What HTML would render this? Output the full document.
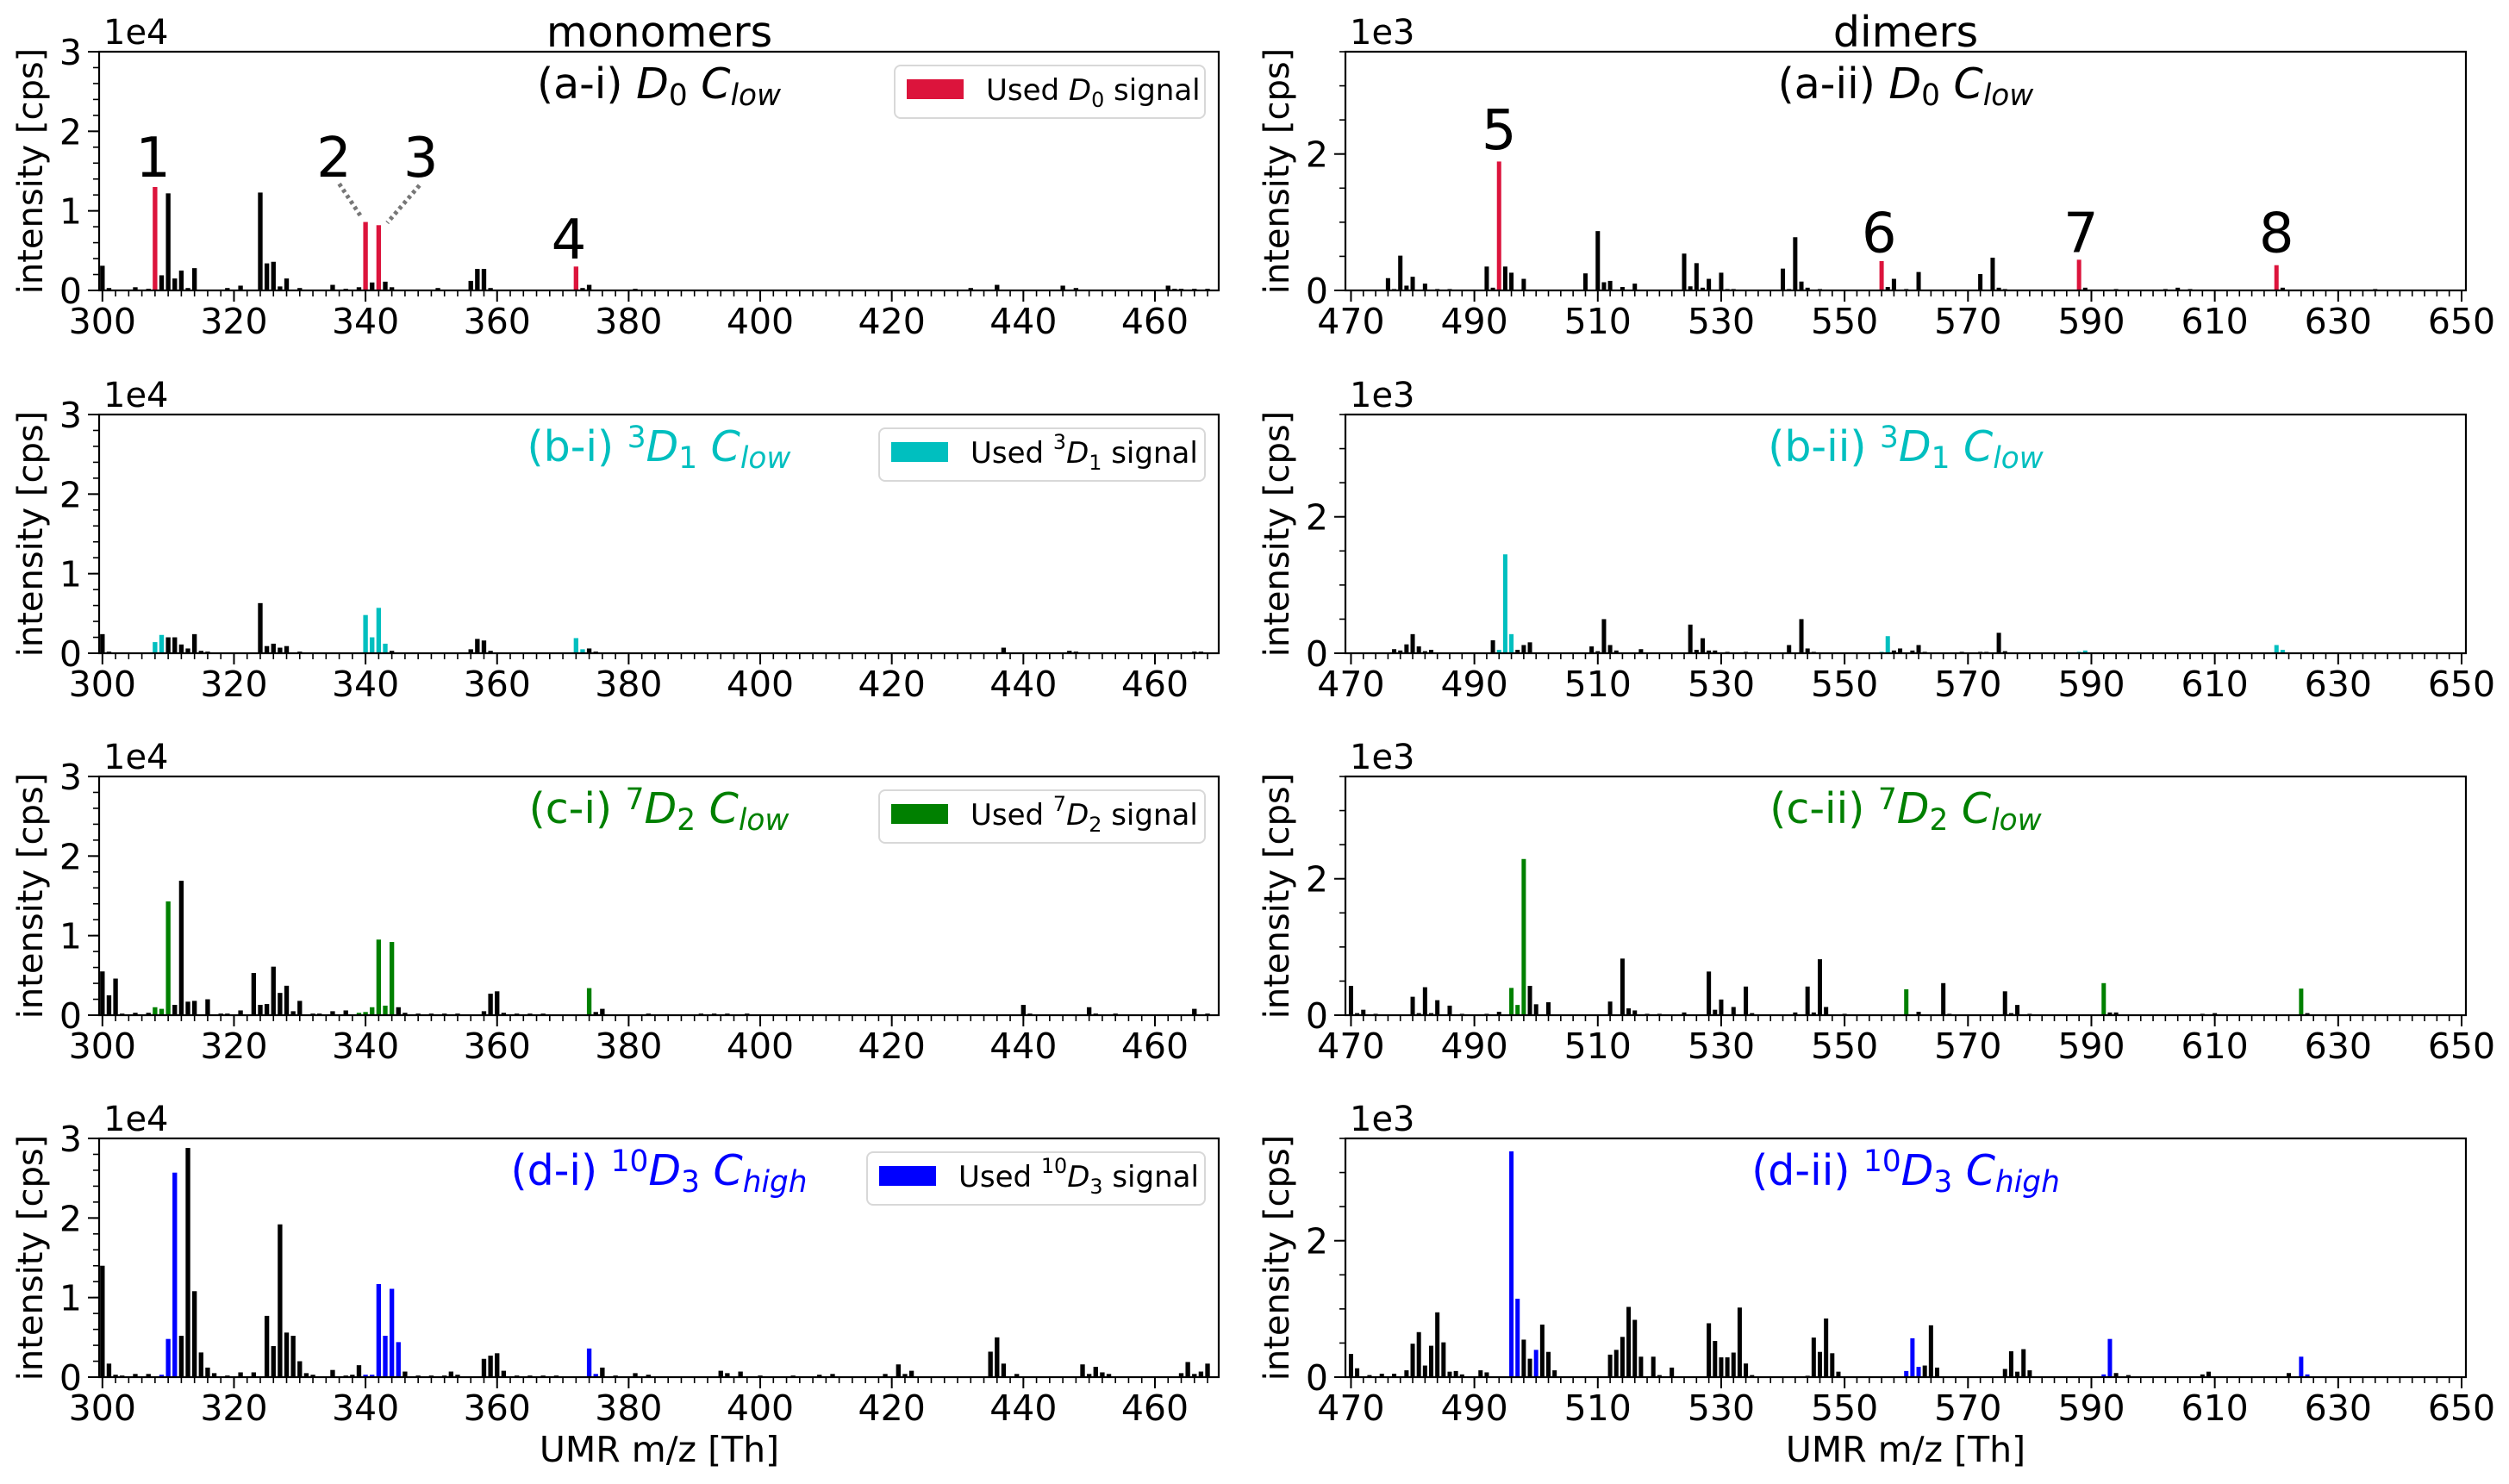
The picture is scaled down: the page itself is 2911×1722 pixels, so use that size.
<!DOCTYPE html>
<html><head><meta charset="utf-8"><style>
html,body{margin:0;padding:0;background:#fff}
svg{display:block;font-family:"DejaVu Sans","Liberation Sans",sans-serif}
</style></head><body>
<svg id="fig" xmlns="http://www.w3.org/2000/svg" width="2911" height="1722" viewBox="0 0 2911 1722"></svg>
<script>
// ---- data (intensity in units of the axis offset: 1e4 monomers, 1e3 dimers) ----
const mzAI=[300,301,303,305,307,308,309,310,311,312,313,314,315,316,319,321,324,325,326,327,328,330,333,335,337,339,340,341,342,343,344,349,351,352,353,356,357,358,359,365,367,372,373,374,381,383,409,416,423,432,436,437,446,448,450,456,462,463,464,466,468];
const valAI=[.31,.03,.01,.04,.02,1.30,.19,1.22,.15,.25,.03,.28,.01,.01,.03,.06,1.23,.34,.36,.05,.15,.03,.01,.07,.02,.04,.86,.10,.82,.11,.04,.01,.03,.01,.01,.12,.27,.27,.03,.01,.01,.30,.03,.07,.02,.01,.01,.01,.01,.03,.07,.01,.06,.03,.01,.01,.06,.02,.02,.02,.02];
const usedAI=[308,340,342,372];

const mzBI=[300,301,308,309,310,311,312,313,314,315,316,324,325,326,327,328,330,340,341,342,343,344,356,357,358,359,372,373,374,375,418,437,440,447,448,450,458,466,467];
const valBI=[.24,.02,.14,.23,.20,.20,.11,.06,.24,.03,.02,.63,.09,.12,.07,.09,.02,.48,.20,.57,.12,.03,.05,.18,.16,.03,.19,.05,.06,.02,.01,.07,.01,.03,.02,.01,.01,.02,.02];
const usedBI=[308,309,340,341,342,343,372,373];

const mzCI=[300,301,302,303,305,307,308,309,310,311,312,313,314,316,318,319,321,323,324,325,326,327,328,329,330,332,333,335,337,339,340,341,342,343,344,345,346,348,350,352,354,358,359,360,361,363,365,367,372,374,375,376,379,383,391,393,395,398,411,420,434,440,441,450,451,454,466,468];
const valCI=[.55,.25,.46,.02,.03,.03,.10,.08,1.43,.13,1.69,.17,.18,.20,.02,.02,.06,.53,.13,.14,.61,.28,.37,.05,.18,.02,.02,.05,.06,.03,.04,.10,.95,.12,.92,.10,.03,.02,.02,.02,.02,.05,.27,.30,.03,.02,.02,.02,.01,.34,.04,.08,.01,.02,.02,.02,.02,.02,.01,.01,.01,.13,.02,.10,.02,.02,.08,.02];
const usedCI=[308,309,310,339,340,341,342,343,344,374];

const mzDI=[300,301,302,303,305,307,309,310,311,312,313,314,315,316,317,319,321,323,325,326,327,328,329,330,331,332,335,337,338,339,340,341,342,343,344,345,346,348,350,352,353,354,358,359,360,361,363,365,367,369,374,375,376,378,381,383,394,395,397,400,405,409,411,419,421,422,423,435,436,437,439,449,450,451,452,453,464,465,466,467,468];
const valDI=[1.40,.17,.03,.02,.04,.04,.03,.48,2.57,.52,2.88,1.08,.31,.12,.05,.02,.06,.06,.77,.39,1.92,.56,.52,.20,.05,.03,.09,.02,.03,.15,.03,.03,1.17,.52,1.11,.44,.07,.02,.02,.02,.07,.03,.23,.27,.30,.08,.02,.02,.02,.02,.36,.04,.12,.02,.05,.03,.08,.05,.07,.02,.02,.03,.04,.04,.16,.04,.08,.32,.50,.17,.04,.16,.04,.13,.06,.04,.05,.19,.04,.07,.17];
const usedDI=[309,310,311,340,341,342,343,344,345,374,375];

const mzAII=[476,477,478,479,480,482,484,486,490,492,493,494,495,496,498,508,509,510,511,512,514,516,524,525,526,527,528,530,531,532,540,541,542,543,544,546,556,557,558,560,562,572,574,575,576,588,589,590,594,602,604,606,620,621,636];
const valAII=[.18,.02,.51,.07,.20,.10,.02,.02,.01,.35,.04,1.89,.35,.26,.17,.25,.01,.87,.12,.14,.05,.10,.54,.06,.40,.04,.17,.26,.02,.02,.32,.02,.78,.13,.04,.02,.43,.05,.17,.02,.27,.24,.48,.04,.02,.45,.04,.01,.02,.02,.04,.02,.37,.04,.02];
const usedAII=[494,556,588,620];

const mzBII=[477,478,479,480,481,482,483,493,494,495,496,497,498,499,509,510,511,512,513,515,517,525,526,527,528,529,531,534,541,543,544,545,556,557,558,559,561,562,563,569,572,573,575,576,588,589,620,621];
const valBII=[.06,.04,.13,.28,.10,.03,.05,.19,.05,1.45,.28,.05,.12,.16,.10,.03,.50,.12,.04,.01,.06,.42,.05,.22,.04,.04,.02,.02,.12,.50,.07,.02,.02,.25,.04,.07,.04,.12,.02,.02,.02,.02,.30,.03,.02,.04,.12,.05];
const usedBII=[494,495,496,556,557,588,589,620,621];

const mzCII=[470,471,472,474,478,480,481,482,483,484,486,488,492,494,496,497,498,499,500,502,512,514,515,516,518,520,524,528,529,530,532,534,535,542,544,545,546,547,550,560,562,566,567,576,577,578,580,592,593,594,608,610,624,625];
const valCII=[.43,.03,.08,.02,.01,.27,.03,.41,.03,.22,.14,.02,.02,.05,.40,.15,2.29,.43,.16,.19,.20,.83,.10,.07,.02,.02,.04,.64,.08,.23,.12,.42,.03,.04,.42,.04,.82,.12,.02,.38,.05,.47,.02,.35,.03,.15,.02,.47,.04,.04,.02,.03,.39,.03];
const usedCII=[496,497,498,560,592,624];

const mzDII=[470,471,473,475,477,479,480,481,482,483,484,485,486,487,488,491,492,496,497,498,499,500,501,502,503,512,513,514,515,516,517,519,520,522,528,529,530,531,532,533,534,535,544,545,546,547,548,549,560,561,562,563,564,565,576,577,578,579,580,592,593,594,596,608,609,622,624,625];
const valDII=[.34,.13,.03,.05,.05,.10,.49,.66,.17,.46,.95,.51,.08,.09,.04,.10,.07,3.31,1.15,.55,.27,.40,.77,.37,.10,.33,.40,.59,1.03,.84,.30,.30,.03,.14,.79,.53,.29,.29,.36,1.02,.20,.03,.02,.58,.37,.86,.35,.08,.09,.57,.15,.17,.76,.14,.12,.38,.08,.41,.10,.04,.56,.06,.03,.04,.08,.06,.30,.04];
const usedDII=[496,497,500,560,561,562,592,593,624,625];

const monoTicks=[300,320,340,360,380,400,420,440,460];
const dimTicks=[470,490,510,530,550,570,590,610,630,650];
const monoYTicks=[0,1,2,3];
const dimYTicks=[0,2];

// ---- drawing ----
const NS='http://www.w3.org/2000/svg';
const svg=document.getElementById('fig');
function mk(tag,attrs,parent){const e=document.createElementNS(NS,tag);for(const k in attrs)e.setAttribute(k,attrs[k]);(parent||svg).appendChild(e);return e;}

const rowTops=[60,481,901,1321], H=277;
const L={x0:115,x1:1414,lo:299.5,hi:469.7,ymax:3,minY:0.2,minX:2};
const R={x0:1561,x1:2861,lo:469.1,hi:650.7,ymax:3.5,minY:0.5,minX:2};

function titleSpans(t,parts){
  parts.forEach(p=>{const s=mk('tspan',{},t);s.textContent=p[0];
    if(p[1]==='i')s.setAttribute('font-style','italic');
    if(p[1]==='sub'){s.setAttribute('font-style','italic');s.setAttribute('font-size','0.7em');s.setAttribute('dy','8');}
    if(p[1]==='subn'){s.setAttribute('font-size','0.7em');s.setAttribute('dy','8');}
    if(p[1]==='sup'){s.setAttribute('font-size','0.7em');s.setAttribute('dy','-16');}
    if(p[1]==='back'){s.setAttribute('dy','-8');}
    if(p[1]==='iback'){s.setAttribute('dy','-8');s.setAttribute('font-style','italic');}
    if(p[1]==='iup'){s.setAttribute('dy','16');s.setAttribute('font-style','italic');}
  });
}

function panel(name,ax,top,mz,val,used,color,ticks,yticks,title,legend,offs){
  const g=mk('g',{});
  
  
  const bot=top+H;
  const sx=v=>ax.x0+(v-ax.lo)/(ax.hi-ax.lo)*(ax.x1-ax.x0);
  const sy=v=>bot-v/ax.ymax*H;
  const bw=0.7*(ax.x1-ax.x0)/(ax.hi-ax.lo);
  mz.forEach((m,i)=>{
    const u=used.indexOf(m)>=0;
    const r=mk('rect',{x:sx(m)-bw/2,y:sy(val[i]),width:bw,height:Math.max(0,bot-sy(val[i])),fill:u?color:'#000'},g);
    
    
  });
  for(let v=Math.ceil(ax.lo/ax.minX)*ax.minX;v<=ax.hi;v+=ax.minX){
    mk('line',{x1:sx(v),x2:sx(v),y1:bot,y2:bot+7,stroke:'#000','stroke-width':1.6},g);
  }
  ticks.forEach(v=>{
    mk('line',{x1:sx(v),x2:sx(v),y1:bot,y2:bot+13,stroke:'#000','stroke-width':2},g);
    const t=mk('text',{x:sx(v),y:bot+50,'font-size':41,'text-anchor':'middle'},g);
    
    
    t.textContent=v;
  });
  for(let v=0;v<=ax.ymax+1e-9;v+=ax.minY){
    mk('line',{x1:ax.x0,x2:ax.x0-7,y1:sy(v),y2:sy(v),stroke:'#000','stroke-width':1.6},g);
  }
  yticks.forEach(v=>{
    mk('line',{x1:ax.x0,x2:ax.x0-13,y1:sy(v),y2:sy(v),stroke:'#000','stroke-width':2},g);
    const t=mk('text',{x:ax.x0-20,y:sy(v)+15,'font-size':41,'text-anchor':'end'},g);
    
    
    t.textContent=v;
  });
  const sp=mk('rect',{x:ax.x0,y:top,width:ax.x1-ax.x0,height:H,fill:'none',stroke:'#000','stroke-width':2.2},g);
  
  
  const o=mk('text',{x:ax.x0+5,y:top-9,'font-size':40},g);
  
  
  o.textContent=offs;
  const yl=mk('text',{x:0,y:0,'font-size':40,'text-anchor':'middle',transform:`translate(${ax.x0-66},${top+H/2}) rotate(-90)`},g);
  
  
  yl.textContent='intensity [cps]';
  const tt=mk('text',{x:(ax.x0+ax.x1)/2,y:top+54,'font-size':49,'text-anchor':'middle',fill:color==='#DC143C'?'#000':color},g);
  
  
  titleSpans(tt,title);
  if(legend){
    const lg=mk('g',{},g);
    
    
    const lx=ax.x1-16-legend.w, ly=top+16;
    mk('rect',{x:lx,y:ly,width:legend.w,height:61,rx:7,fill:'#fff',stroke:'#d8d8d8','stroke-width':2},lg);
    const pt=mk('rect',{x:lx+14,y:ly+16,width:66,height:23,fill:color},lg);
    
    
    const lt=mk('text',{x:lx+106,y:ly+40,'font-size':34},lg);
    
    
    titleSpans(lt,legend.parts);
  }
  return {sx,sy,g};
}

const red='#DC143C',cyan='#00BFBF',green='#008000',blue='#0000FF';
const pAI=panel('panel-a-i',L,rowTops[0],mzAI,valAI,usedAI,red,monoTicks,monoYTicks,
 [['(a-i) '],['D','i'],['0','subn'],[' C','iback'],['low','sub']],
 {w:360,parts:[['Used '],['D','i'],['0','subn'],[' signal','back']]},'1e4');
panel('panel-b-i',L,rowTops[1],mzBI,valBI,usedBI,cyan,monoTicks,monoYTicks,
 [['(b-i) '],['3','sup'],['D','iup'],['1','subn'],[' C','iback'],['low','sub']],
 {w:378,parts:[['Used '],['3','sup'],['D','iup'],['1','subn'],[' signal','back']]},'1e4');
panel('panel-c-i',L,rowTops[2],mzCI,valCI,usedCI,green,monoTicks,monoYTicks,
 [['(c-i) '],['7','sup'],['D','iup'],['2','subn'],[' C','iback'],['low','sub']],
 {w:378,parts:[['Used '],['7','sup'],['D','iup'],['2','subn'],[' signal','back']]},'1e4');
panel('panel-d-i',L,rowTops[3],mzDI,valDI,usedDI,blue,monoTicks,monoYTicks,
 [['(d-i) '],['10','sup'],['D','iup'],['3','subn'],[' C','iback'],['high','sub']],
 {w:392,parts:[['Used '],['10','sup'],['D','iup'],['3','subn'],[' signal','back']]},'1e4');
const pAII=panel('panel-a-ii',R,rowTops[0],mzAII,valAII,usedAII,red,dimTicks,dimYTicks,
 [['(a-ii) '],['D','i'],['0','subn'],[' C','iback'],['low','sub']],null,'1e3');
panel('panel-b-ii',R,rowTops[1],mzBII,valBII,usedBII,cyan,dimTicks,dimYTicks,
 [['(b-ii) '],['3','sup'],['D','iup'],['1','subn'],[' C','iback'],['low','sub']],null,'1e3');
panel('panel-c-ii',R,rowTops[2],mzCII,valCII,usedCII,green,dimTicks,dimYTicks,
 [['(c-ii) '],['7','sup'],['D','iup'],['2','subn'],[' C','iback'],['low','sub']],null,'1e3');
panel('panel-d-ii',R,rowTops[3],mzDII,valDII,usedDII,blue,dimTicks,dimYTicks,
 [['(d-ii) '],['10','sup'],['D','iup'],['3','subn'],[' C','iback'],['high','sub']],null,'1e3');

const annLabels=['1','2','3','4'], annX=[307.7,335.2,348.4,370.9], annY=[1.43,1.43,1.43,0.40];
annLabels.forEach((s,i)=>{const t=mk('text',{x:pAI.sx(annX[i]),y:pAI.sy(annY[i]),'font-size':64,'text-anchor':'middle'});
 
 
 t.textContent=s;});
const annLabels2=['5','6','7','8'], annX2=[494,555.6,588.3,620], annY2=[2.07,0.56,0.56,0.56];
annLabels2.forEach((s,i)=>{const t=mk('text',{x:pAII.sx(annX2[i]),y:pAII.sy(annY2[i]),'font-size':64,'text-anchor':'middle'});
 
 
 t.textContent=s;});
const ln1=mk('line',{x1:pAI.sx(336),y1:pAI.sy(1.34),x2:pAI.sx(339.3),y2:pAI.sy(0.93),stroke:'#777','stroke-width':5,'stroke-dasharray':'4 4'});


const ln2=mk('line',{x1:pAI.sx(348.2),y1:pAI.sy(1.32),x2:pAI.sx(343.3),y2:pAI.sy(0.85),stroke:'#777','stroke-width':5,'stroke-dasharray':'4 4'});



const c1=mk('text',{x:765,y:54,'font-size':49,'text-anchor':'middle'});c1.textContent='monomers';


const c2=mk('text',{x:2211,y:54,'font-size':49,'text-anchor':'middle'});c2.textContent='dimers';


const x1l=mk('text',{x:765,y:1696,'font-size':41,'text-anchor':'middle'});x1l.textContent='UMR m/z [Th]';


const x2l=mk('text',{x:2211,y:1696,'font-size':41,'text-anchor':'middle'});x2l.textContent='UMR m/z [Th]';


</script>
</body></html>
